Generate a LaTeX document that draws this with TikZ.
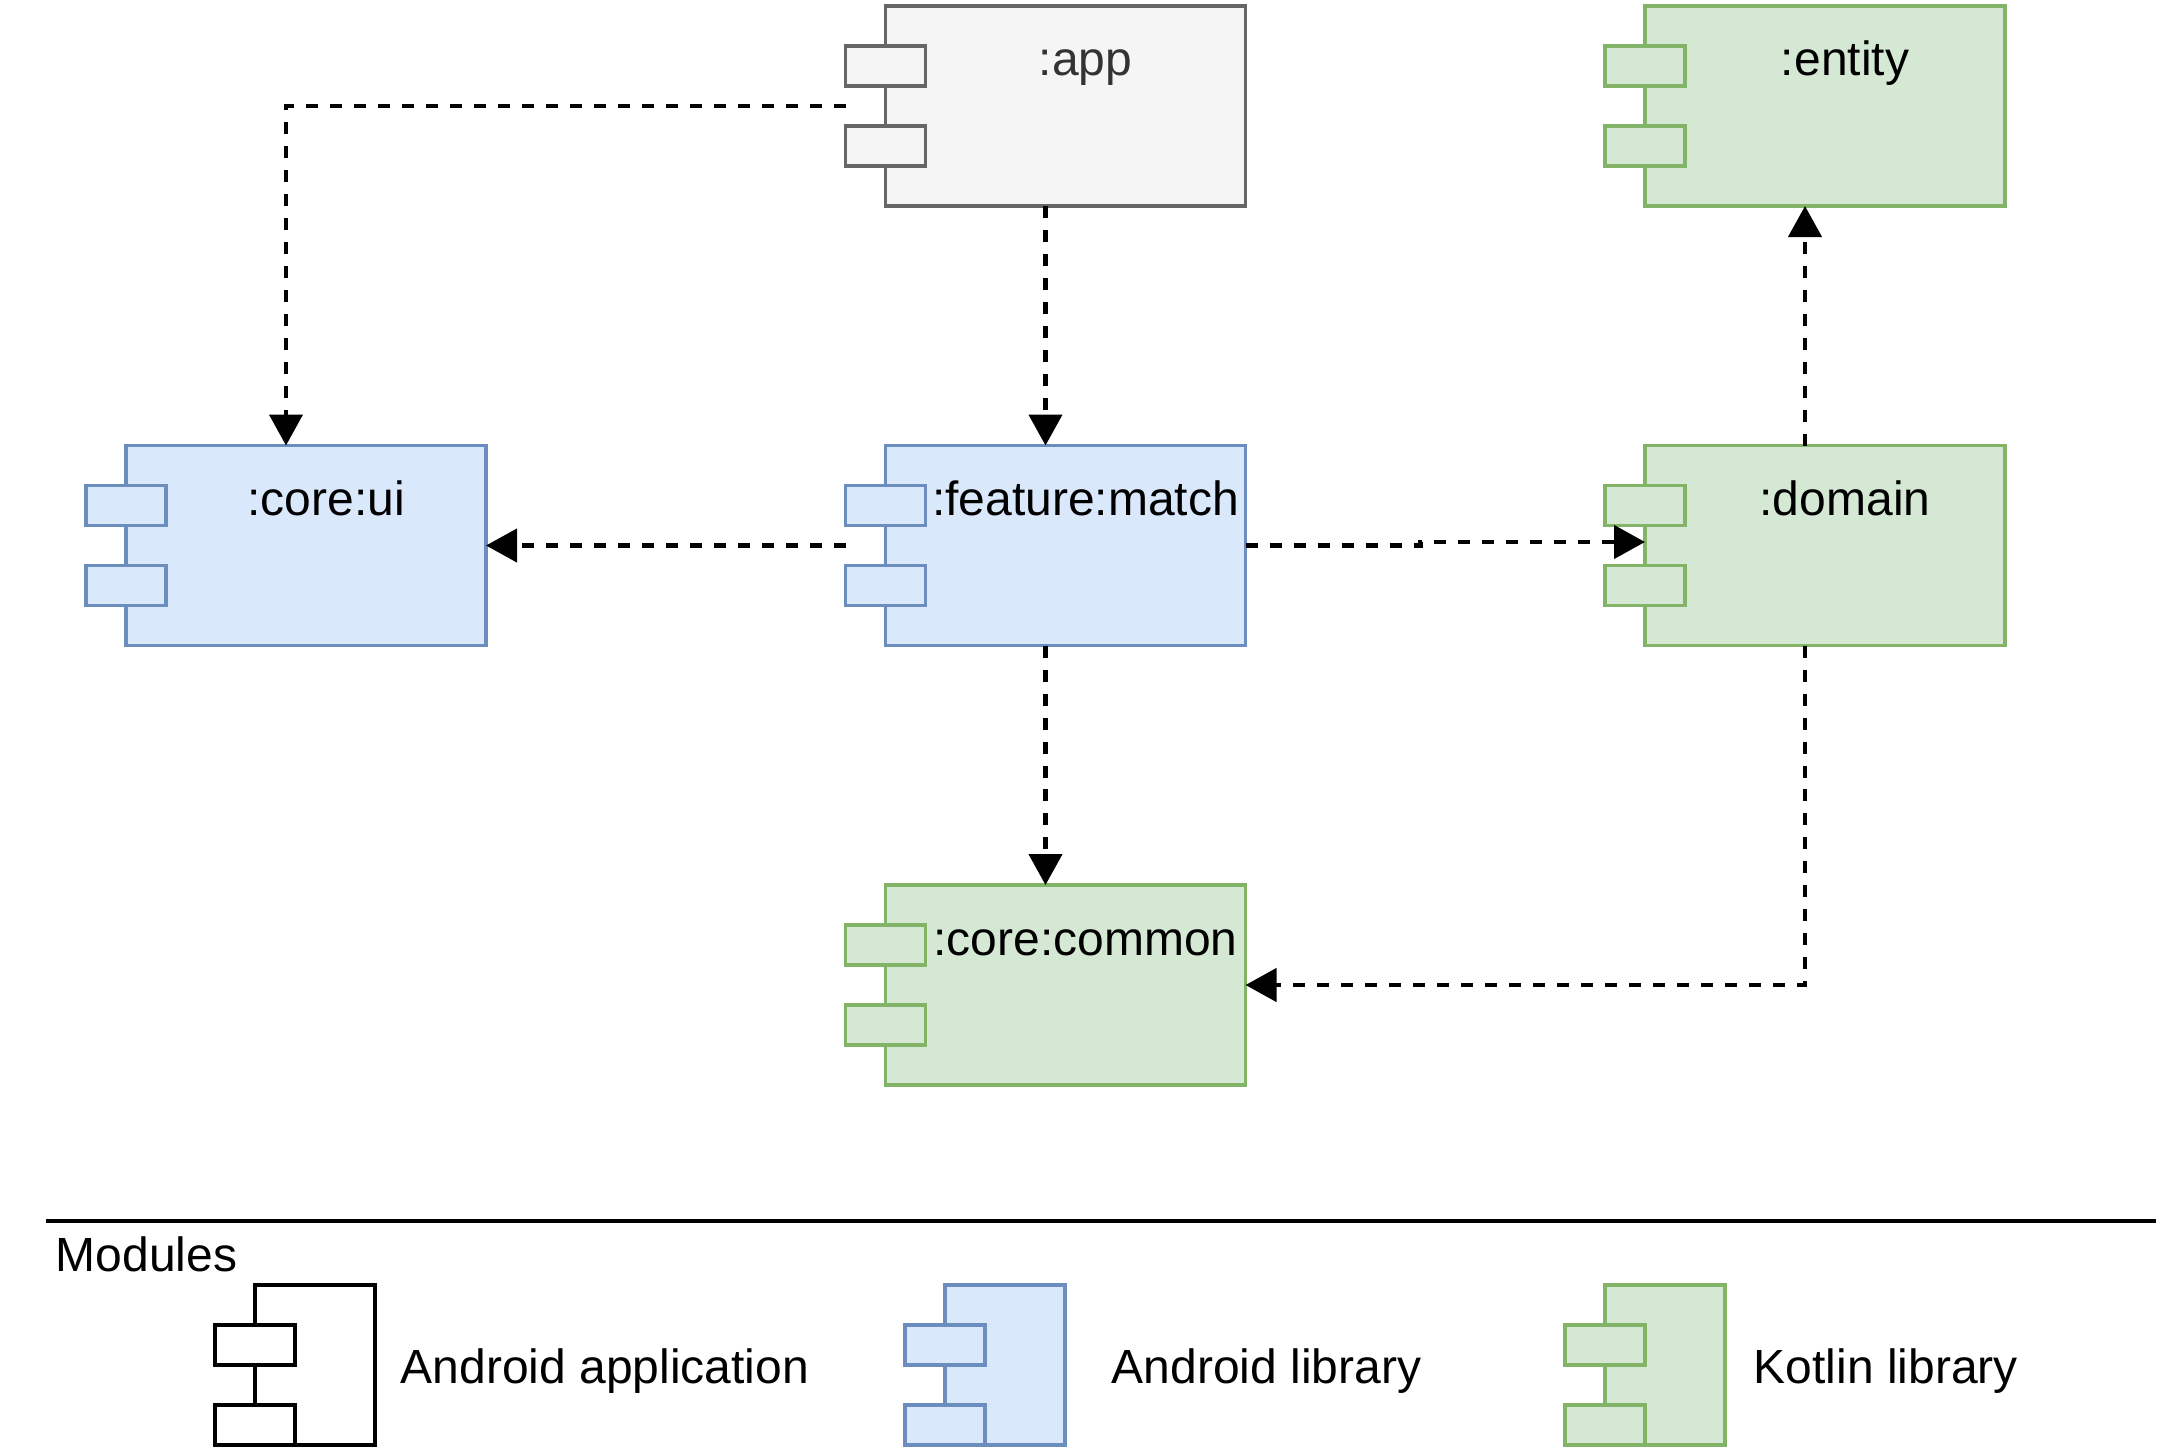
\documentclass[tikz,border=0pt]{standalone}
\usepackage{fontspec}
\setmainfont{Liberation Sans}
\usepackage{xcolor}
\usepackage{tikz}
\usetikzlibrary{arrows.meta,positioning,fit}

\definecolor{appfill}{HTML}{F5F5F5}
\definecolor{appline}{HTML}{666666}
\definecolor{apptext}{HTML}{333333}
\definecolor{andfill}{HTML}{DAE8FC}
\definecolor{andline}{HTML}{6C8EBF}
\definecolor{ktfill}{HTML}{D5E8D4}
\definecolor{ktline}{HTML}{82B366}

\tikzset{
    modbody/.style={rectangle, minimum width=3.6cm, minimum height=2cm, inner sep=0pt, outer sep=0pt, line width=1.1pt},
    modport/.style={rectangle, minimum width=0.8cm, minimum height=0.4cm, inner sep=0pt, outer sep=0pt, line width=1.1pt},
    legbody/.style={modbody, minimum width=1.2cm, minimum height=1.6cm},
    modlabel/.style={inner sep=0pt, font=\fontsize{13.66pt}{16pt}\selectfont},
    appmod/.style={draw=appline, fill=appfill, text=apptext},
    andmod/.style={draw=andline, fill=andfill},
    ktmod/.style={draw=ktline, fill=ktfill},
    plainmod/.style={draw=black, fill=white},
    dep/.style={line width=1.25pt, dash pattern=on 0.12cm off 0.12cm, -{Triangle[length=0.31cm, width=0.33cm]}},
}

% module box: name, body centre, label, colour style
\newcommand{\modulebox}[4]{%
    \node[modbody, #4] (#1-body) at (#2) {};
    \node[modport, #4, below=0.4cm of #1-body.north west] (#1-port1) {};
    \node[modport, #4, below=1.2cm of #1-body.north west] (#1-port2) {};
    \node[modlabel, #4, draw=none, fill=none, anchor=base] (#1-label) at ([xshift=-1.6cm, yshift=-0.7cm]#1-body.north east) {#3};
    \node[fit=(#1-port1)(#1-body), inner sep=0pt, outer sep=0pt] (#1) {};
}

% legend icon: name, body centre, colour style
\newcommand{\legendicon}[3]{%
    \node[legbody, #3] (#1-body) at (#2) {};
    \node[modport, #3, below=0.4cm of #1-body.north west] (#1-port1) {};
    \node[modport, #3, below=1.2cm of #1-body.north west] (#1-port2) {};
}

\begin{document}
\begin{tikzpicture}
    \useasboundingbox (0,0) rectangle (21.64,-14.52);

    % Modules
    \modulebox{app}{10.655,-1.06}{:app}{appmod}
    \modulebox{entity}{18.25,-1.06}{:entity}{ktmod}
    \modulebox{coreui}{3.06,-5.455}{:core:ui}{andmod}
    \modulebox{feature}{10.655,-5.455}{:feature:match}{andmod}
    \modulebox{domain}{18.25,-5.455}{:domain}{ktmod}
    \modulebox{common}{10.655,-9.85}{:core:common}{ktmod}

    % Dependencies
    \draw[dep] (app.west) -| (coreui.north);
    \draw[dep] (app.south) -- (feature.north);
    \draw[dep] (feature.west) -- (coreui-body.east);
    \draw[dep] (feature.east) -- ++(1.75,0) |- ([yshift=0.035cm]domain-body.west);
    \draw[dep] (domain.north) -- (entity.south);
    \draw[dep] (feature.south) -- (common.north);
    \draw[dep] (domain.south) |- (common-body.east);

    % Legend
    \draw[line width=1.1pt] (0.46,-12.21) -- (21.56,-12.21);
    \node[modlabel, anchor=base west] (legtitle) at (0.55,-12.71) {Modules};

    \legendicon{legapp}{3.15,-13.65}{plainmod}
    \legendicon{legand}{10.05,-13.65}{andmod}
    \legendicon{legkt}{16.65,-13.65}{ktmod}

    \node[modlabel, anchor=base west] (legapp-text) at ([xshift=0.25cm, yshift=-0.18cm]legapp-body.east) {Android application};
    \node[modlabel, anchor=base west] (legand-text) at ([xshift=0.46cm, yshift=-0.18cm]legand-body.east) {Android library};
    \node[modlabel, anchor=base west] (legkt-text) at ([xshift=0.28cm, yshift=-0.18cm]legkt-body.east) {Kotlin library};
\end{tikzpicture}
\end{document}
